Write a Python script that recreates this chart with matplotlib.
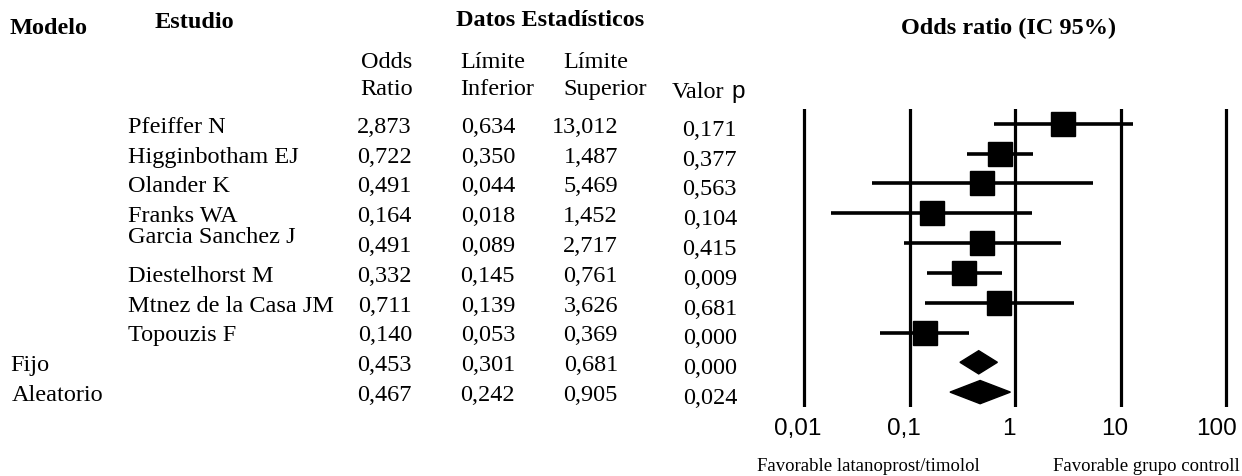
import numpy as np
import matplotlib
matplotlib.use("Agg")
import matplotlib.pyplot as plt
from matplotlib.transforms import blended_transform_factory, ScaledTranslation
from matplotlib.patches import Polygon

# data
estudios = ["Pfeiffer N", "Higginbotham EJ", "Olander K", "Franks WA", "Garcia Sanchez J",
            "Diestelhorst M", "Mtnez de la Casa JM", "Topouzis F"]
modelos = ["Fijo", "Aleatorio"]
odds = [2.873, 0.722, 0.491, 0.164, 0.491, 0.332, 0.711, 0.140, 0.453, 0.467]
lim_inf = [0.634, 0.350, 0.044, 0.018, 0.089, 0.145, 0.139, 0.053, 0.301, 0.242]
lim_sup = [13.012, 1.487, 5.469, 1.452, 2.717, 0.761, 3.626, 0.369, 0.681, 0.905]
valor_p = [0.171, 0.377, 0.563, 0.104, 0.415, 0.009, 0.681, 0.000, 0.000, 0.024]
ticks = [0.01, 0.1, 1, 10, 100]
tick_labels = ["0,01", "0,1", "1", "10", "100"]

W, H = 1242, 477
fig = plt.figure(figsize=(W / 100, H / 100), dpi=100)
serif = "Liberation Serif"
sans = "Liberation Sans"


def fx(px):
    return px / W


def fy(py):
    return 1 - py / H


def coma(v):
    return f"{v:.3f}".replace(".", ",")


# forest axes, 105.5 px per decade
L, R, T, B = 780, 1240, 110, 408
ax = fig.add_axes([fx(L), fy(B), (R - L) / W, (B - T) / H])
dec = 105.5
ax.set_xscale("log")
ax.set_xlim(10 ** (-2 - (804 - L) / dec), 10 ** (2 + (R - 1226) / dec))
n = len(odds)
ax.set_ylim(n - 0.5, -0.5)
for s in ax.spines.values():
    s.set_visible(False)
ax.set_yticks([])
ax.minorticks_off()
ax.set_xticks(ticks)
ax.set_xticklabels(tick_labels, fontfamily=sans, fontsize=17.5)
ax.tick_params(axis="x", length=0, pad=7)
for k, lab in enumerate(ax.get_xticklabels()):
    dx = -10 if k == len(ticks) - 1 else -6
    lab.set_transform(lab.get_transform() + ScaledTranslation(dx / 100, 0, fig.dpi_scale_trans))
for t in ticks:
    ax.axvline(t, color="black", lw=2.3)

nst = len(estudios)
for i in range(nst):
    ax.plot([lim_inf[i], lim_sup[i]], [i, i], color="black", lw=2.6, solid_capstyle="butt")
    ax.plot(odds[i], i, marker="s", color="black", markersize=17.5)
for i in range(nst, n):
    h = 0.39
    pts = [(lim_inf[i], i), (odds[i], i - h), (lim_sup[i], i), (odds[i], i + h)]
    ax.add_patch(Polygon(pts, closed=True, color="black"))

# table text
tr = blended_transform_factory(fig.transFigure, ax.transData)
fs = 17.5
hfs = 17.5
dy = 0.08
fig.text(fx(10), fy(28), "Modelo", fontfamily=serif, fontweight="bold", fontsize=hfs, va="center")
fig.text(fx(155), fy(22), "Estudio", fontfamily=serif, fontweight="bold", fontsize=hfs, va="center")
fig.text(fx(550), fy(20), "Datos Estadísticos", fontfamily=serif, fontweight="bold", fontsize=hfs,
         va="center", ha="center")
fig.text(fx(1009), fy(28), "Odds ratio (IC 95%)", fontfamily=serif, fontweight="bold", fontsize=hfs,
         va="center", ha="center")

for txt, y in [("Odds", 62), ("Ratio", 90)]:
    fig.text(fx(387), fy(y), txt, fontfamily=serif, fontsize=fs, va="center", ha="center")
for txt, y in [("Límite", 62), ("Inferior", 90)]:
    fig.text(fx(460), fy(y), txt, fontfamily=serif, fontsize=fs, va="center")
for txt, y in [("Límite", 62), ("Superior", 90)]:
    fig.text(fx(563), fy(y), txt, fontfamily=serif, fontsize=fs, va="center")
fig.text(fx(672), fy(92), "Valor", fontfamily=serif, fontsize=fs, va="center")
fig.text(fx(731), fy(92), "p", fontfamily=sans, fontsize=fs, va="center")

for i, name in enumerate(estudios):
    off = -0.3 if name.startswith("Garcia") else 0
    fig.text(fx(128), i + off + dy, name, transform=tr, fontfamily=serif, fontsize=fs, va="center")
for j, name in enumerate(modelos):
    fig.text(fx(10 + 2 * j), nst + j + dy, name, transform=tr, fontfamily=serif, fontsize=fs, va="center")

for i in range(n):
    fig.text(fx(412), i + dy, coma(odds[i]), transform=tr, fontfamily=serif, fontsize=fs,
             va="center", ha="right")
    fig.text(fx(515), i + dy, coma(lim_inf[i]), transform=tr, fontfamily=serif, fontsize=fs,
             va="center", ha="right")
    fig.text(fx(618), i + dy, coma(lim_sup[i]), transform=tr, fontfamily=serif, fontsize=fs,
             va="center", ha="right")
    fig.text(fx(737), i + 0.18, coma(valor_p[i]), transform=tr, fontfamily=serif, fontsize=fs,
             va="center", ha="right")

fig.text(fx(757), fy(467), "Favorable latanoprost/timolol", fontfamily=serif, fontsize=13.5, va="center")
fig.text(fx(1146), fy(467), "Favorable grupo controll", fontfamily=serif, fontsize=13.5, va="center",
         ha="center")

fig.savefig("out.png", dpi=100)
